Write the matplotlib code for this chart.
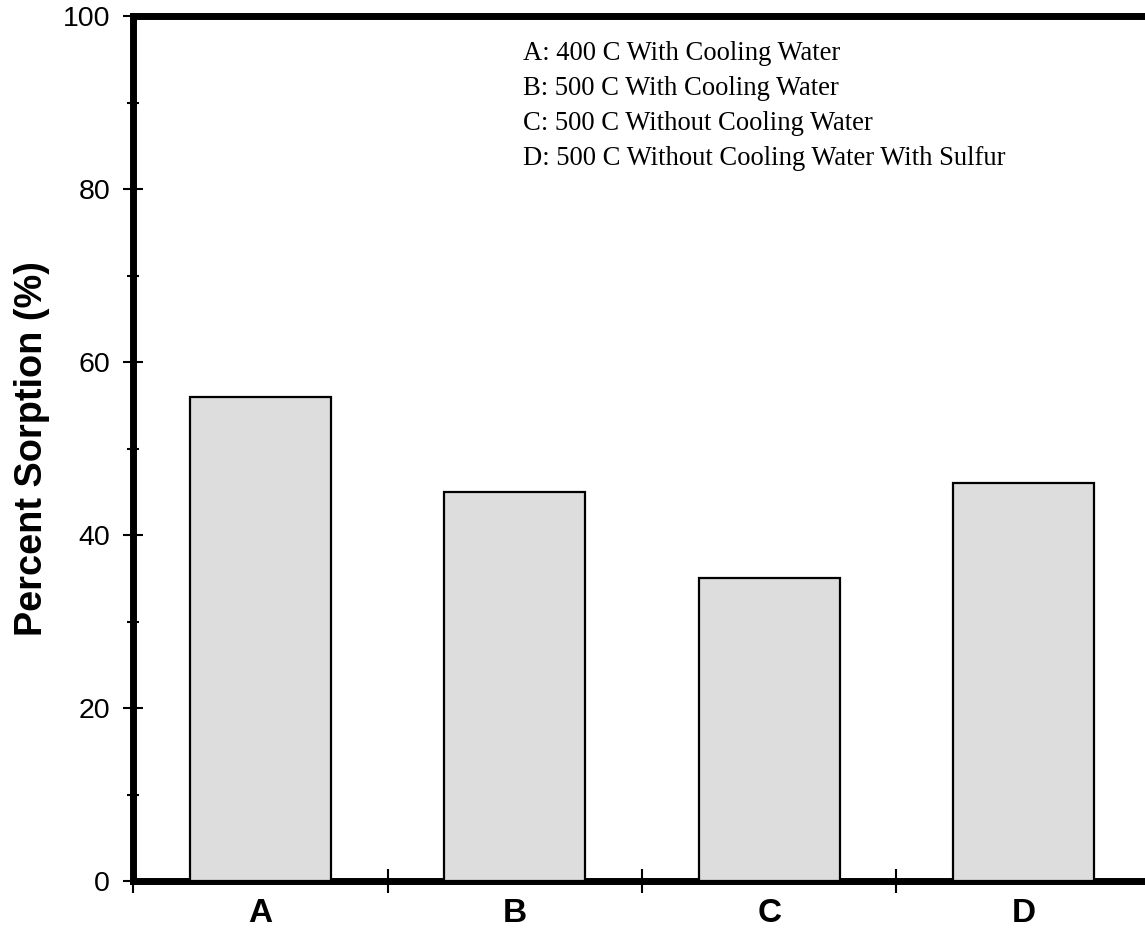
import matplotlib
matplotlib.use("Agg")
import matplotlib.pyplot as plt
from matplotlib.ticker import FixedLocator, MultipleLocator, NullFormatter

# Sorption results for each run condition
categories = ["A", "B", "C", "D"]
sorption = [56, 45, 35, 46]
conditions = [
    "A: 400 C With Cooling Water",
    "B: 500 C With Cooling Water",
    "C: 500 C Without Cooling Water",
    "D: 500 C Without Cooling Water With Sulfur",
]
y_ticks = [0, 20, 40, 60, 80, 100]

SANS = "Liberation Sans"
SERIF = "Liberation Serif"

fig = plt.figure(figsize=(11.45, 9.32), dpi=100)
ax = fig.add_axes([0.1162, 0.0547, 0.889, 0.9276])

positions = [i + 0.5 for i in range(len(categories))]
ax.bar(positions, sorption, width=0.555, color="#DDDDDD",
       edgecolor="black", linewidth=1.6, zorder=3)

ax.set_xlim(0, len(categories))
ax.set_ylim(0, 100)

# Spines: heavy frame on left, top and bottom
for side in ("left", "top", "bottom"):
    ax.spines[side].set_linewidth(5)
ax.spines["right"].set_visible(False)

# y axis ticks
ax.yaxis.set_major_locator(FixedLocator(y_ticks))
ax.yaxis.set_minor_locator(MultipleLocator(10))
ax.tick_params(axis="y", which="major", direction="inout", length=15,
               width=1.5, pad=9, labelsize=20.5)
ax.tick_params(axis="y", which="minor", direction="inout", length=8.5,
               width=1.5)
for lbl in ax.get_yticklabels():
    lbl.set_fontfamily(SANS)

# x axis: separators as major ticks, category names on minor ticks
ax.xaxis.set_major_locator(FixedLocator(range(len(categories) + 1)))
ax.xaxis.set_major_formatter(NullFormatter())
ax.xaxis.set_minor_locator(FixedLocator(positions))
ax.set_xticklabels(categories, minor=True)
ax.tick_params(axis="x", which="major", direction="inout", length=17,
               width=1.5)
ax.tick_params(axis="x", which="minor", length=0, pad=12, labelsize=24)
for lbl in ax.get_xticklabels(minor=True):
    lbl.set_fontfamily(SANS)
    lbl.set_fontweight("bold")

ax.set_ylabel("Percent Sorption (%)", fontsize=27.3, fontweight="bold",
              fontfamily=SANS)
ax.yaxis.set_label_coords(-0.0815, 0.5)

# Key to run conditions
y0 = 0.9497
step = 0.0405
for i, line in enumerate(conditions):
    ax.text(0.3835, y0 - i * step, line, transform=ax.transAxes,
            fontsize=19.15, fontfamily=SERIF, ha="left", va="baseline")

fig.savefig("out.png", dpi=100)
